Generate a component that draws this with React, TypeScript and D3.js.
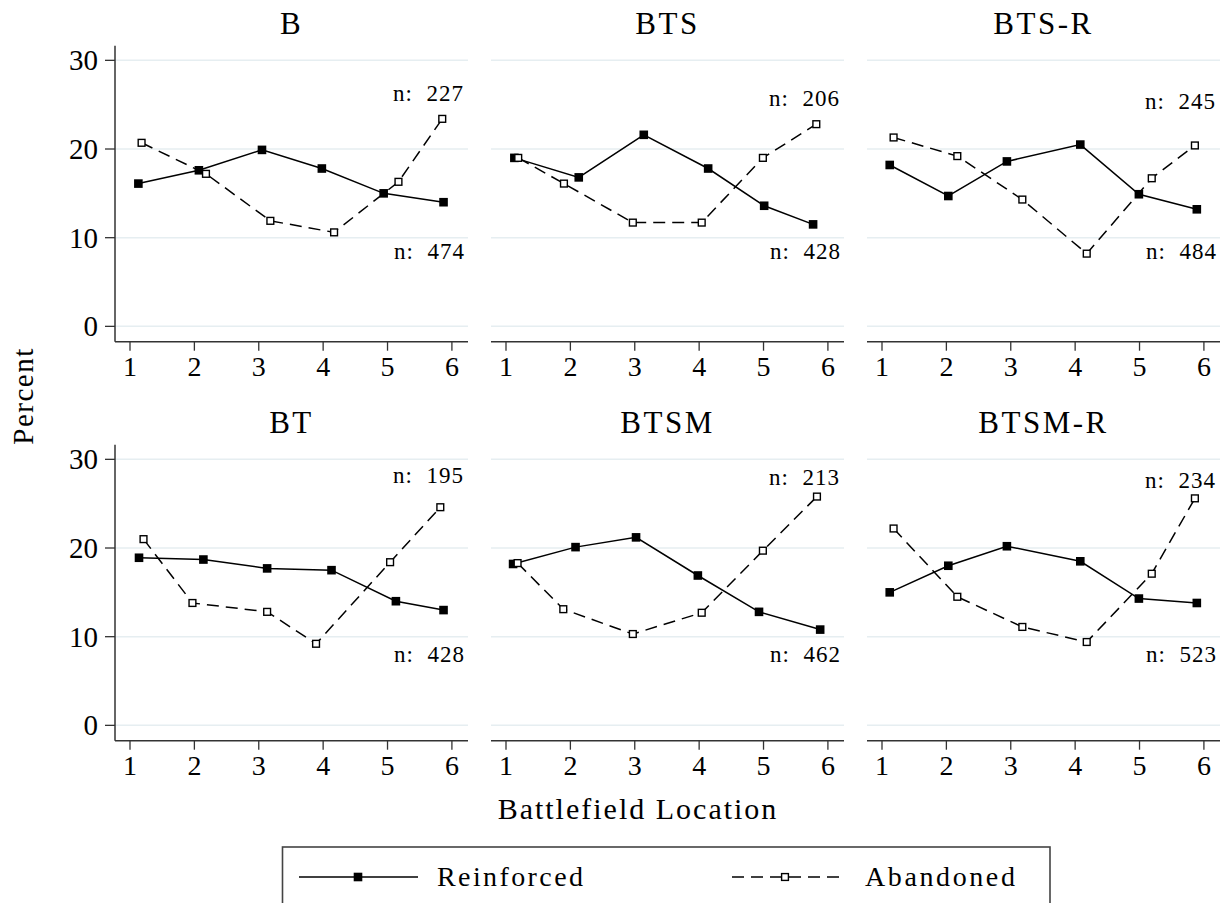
import React from 'react'
import * as d3 from 'd3'

// panels in reading order
const panelNames = ['B', 'BTS', 'BTS-R', 'BT', 'BTSM', 'BTSM-R']

// mean battlefield location of each point (slightly off the integer grid)
const reinforcedLoc = [
  [1.13, 2.07, 3.05, 3.98, 4.94, 5.87],
  [1.13, 2.13, 3.14, 4.14, 5.01, 5.77],
  [1.12, 2.03, 2.94, 4.08, 4.99, 5.89],
  [1.14, 2.14, 3.13, 4.13, 5.13, 5.87],
  [1.11, 2.08, 3.02, 3.98, 4.93, 5.88],
  [1.12, 2.03, 2.94, 4.08, 4.99, 5.89],
]
const reinforcedPct = [
  [16.1, 17.6, 19.9, 17.8, 15.0, 14.0],
  [19.0, 16.8, 21.6, 17.8, 13.6, 11.5],
  [18.2, 14.7, 18.6, 20.5, 14.9, 13.2],
  [18.9, 18.7, 17.7, 17.5, 14.0, 13.0],
  [18.2, 20.1, 21.2, 16.9, 12.8, 10.8],
  [15.0, 18.0, 20.2, 18.5, 14.3, 13.8],
]
const abandonedLoc = [
  [1.18, 2.18, 3.18, 4.17, 5.17, 5.85],
  [1.19, 1.90, 2.97, 4.04, 4.99, 5.82],
  [1.18, 2.17, 3.18, 4.18, 5.19, 5.86],
  [1.21, 1.97, 3.13, 3.89, 5.04, 5.82],
  [1.18, 1.89, 2.97, 4.04, 4.99, 5.83],
  [1.18, 2.17, 3.18, 4.18, 5.19, 5.86],
]
const abandonedPct = [
  [20.7, 17.2, 11.9, 10.6, 16.3, 23.4],
  [19.0, 16.1, 11.7, 11.7, 19.0, 22.8],
  [21.3, 19.2, 14.3, 8.2, 16.7, 20.4],
  [21.0, 13.8, 12.8, 9.2, 18.4, 24.6],
  [18.3, 13.1, 10.3, 12.7, 19.7, 25.8],
  [22.2, 14.5, 11.1, 9.4, 17.1, 25.6],
]
const nAbandoned = [227, 206, 245, 195, 213, 234]
const nReinforced = [474, 428, 484, 428, 462, 523]

const xTicks = [1, 2, 3, 4, 5, 6]
const yTicks = [0, 10, 20, 30]

const FONT = "'Liberation Serif', 'DejaVu Serif', 'Noto Serif', serif"
const W = 1225
const H = 903
const colLeft = [115, 491, 867]
const panelW = 353
const rowShift = [0, 399]
const gridColor = '#e6eef1'
const axisColor = '#333'

const Panel = ({ idx }: { idx: number }) => {
  const col = idx % 3
  const row = Math.floor(idx / 3)
  const left = colLeft[col]
  const dy = rowShift[row]
  const x = d3.scaleLinear().domain([0.767, 6.25]).range([left, left + panelW])
  const y = d3.scaleLinear().domain([-1.73, 31.65]).range([341.7 + dy, 45.7 + dy])
  const bottom = y(-1.73)
  const line = d3.line<[number, number]>().x(d => x(d[0])).y(d => y(d[1]))
  const rPts = reinforcedLoc[idx].map((v, i) => [v, reinforcedPct[idx][i]] as [number, number])
  const aPts = abandonedLoc[idx].map((v, i) => [v, abandonedPct[idx][i]] as [number, number])
  const topLab = row === 0 ? [25.4, 24.9, 24.55][col] : [27.3, 27.1, 26.8][col]
  const botLab = row === 0 ? 7.6 : 7.1
  return (
    <g>
      <text x={(left + left + panelW) / 2} y={33.5 + dy} textAnchor="middle" fontSize={31} letterSpacing={2.5}>
        {panelNames[idx]}
      </text>
      {yTicks.map(t => (
        <line key={t} x1={left} x2={left + panelW} y1={y(t)} y2={y(t)} stroke={gridColor} strokeWidth={1.5} />
      ))}
      {col === 0 && (
        <g>
          <line x1={left} x2={left} y1={y(31.65)} y2={bottom} stroke={axisColor} strokeWidth={1.5} />
          {yTicks.map(t => (
            <g key={t}>
              <line x1={left - 10} x2={left} y1={y(t)} y2={y(t)} stroke={axisColor} strokeWidth={1.3} />
              <text x={left - 17} y={y(t) + 10} textAnchor="end" fontSize={29}>{t}</text>
            </g>
          ))}
        </g>
      )}
      <line x1={left} x2={left + panelW} y1={bottom} y2={bottom} stroke={axisColor} strokeWidth={1.5} />
      {xTicks.map(t => (
        <g key={t}>
          <line x1={x(t)} x2={x(t)} y1={bottom} y2={bottom + 9} stroke={axisColor} strokeWidth={1.3} />
          <text x={x(t)} y={bottom + 34.5} textAnchor="middle" fontSize={28}>{t}</text>
        </g>
      ))}
      <path d={line(aPts) || ''} fill="none" stroke="#000" strokeWidth={1.5} strokeDasharray="12 7" />
      <path d={line(rPts) || ''} fill="none" stroke="#000" strokeWidth={1.5} />
      {rPts.map((p, i) => (
        <rect key={'r' + i} x={x(p[0]) - 4.3} y={y(p[1]) - 4.3} width={8.6} height={8.6} fill="#000" />
      ))}
      {aPts.map((p, i) => (
        <rect key={'a' + i} x={x(p[0]) - 3.4} y={y(p[1]) - 3.4} width={6.8} height={6.8} fill="#fff" stroke="#000" strokeWidth={1.4} />
      ))}
      <text x={left + panelW - 4} y={y(topLab)} textAnchor="end" fontSize={23} letterSpacing={1} style={{ whiteSpace: 'pre' }}>
        {'n:  ' + nAbandoned[idx]}
      </text>
      <text x={left + panelW - 3} y={y(botLab)} textAnchor="end" fontSize={23} letterSpacing={1} style={{ whiteSpace: 'pre' }}>
        {'n:  ' + nReinforced[idx]}
      </text>
    </g>
  )
}

const App = () => {
  return (
    <svg width={W} height={H} style={{ position: 'absolute', left: 0, top: 0, background: '#fff', fontFamily: FONT }}>
      <rect x={0} y={0} width={W} height={H} fill="#fff" />
      {panelNames.map((_, i) => <Panel key={i} idx={i} />)}
      <text transform="translate(33,396) rotate(-90)" textAnchor="middle" fontSize={29} letterSpacing={1.5}>Percent</text>
      <text x={638} y={819} textAnchor="middle" fontSize={30} letterSpacing={2}>Battlefield Location</text>
      <rect x={282.5} y={847} width={767.5} height={80} fill="#fff" stroke="#444" strokeWidth={1.6} />
      <line x1={299} x2={418} y1={877} y2={877} stroke="#000" strokeWidth={1.6} />
      <rect x={353.7} y={872.7} width={8.6} height={8.6} fill="#000" />
      <text x={437} y={886} fontSize={28} letterSpacing={2.4}>Reinforced</text>
      <line x1={732} x2={842} y1={877} y2={877} stroke="#000" strokeWidth={1.6} strokeDasharray="12 7" />
      <rect x={781.6} y={873.6} width={6.8} height={6.8} fill="#fff" stroke="#000" strokeWidth={1.4} />
      <text x={865} y={886} fontSize={28} letterSpacing={2.6}>Abandoned</text>
    </svg>
  )
}

export default App
